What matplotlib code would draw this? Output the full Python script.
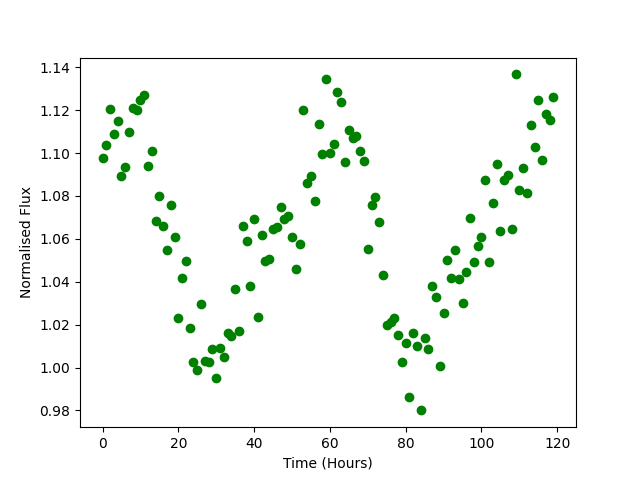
import matplotlib
matplotlib.use('Agg')
import matplotlib.pyplot as plt
import numpy as np

hours = np.arange(120)
flux = [1.0975, 1.1036, 1.1204, 1.1088, 1.1148, 1.0892, 1.0934, 1.1097, 1.1209, 1.1200,
        1.1246, 1.1270, 1.0938, 1.1008, 1.0682, 1.0799, 1.0659, 1.0547, 1.0757, 1.0608,
        1.0230, 1.0417, 1.0496, 1.0183, 1.0025, 0.9990, 1.0295, 1.0030, 1.0025, 1.0086,
        0.9950, 1.0090, 1.0049, 1.0160, 1.0147, 1.0366, 1.0170, 1.0659, 1.0589, 1.0380,
        1.0692, 1.0235, 1.0617, 1.0496, 1.0505, 1.0645, 1.0654, 1.0750, 1.0692, 1.0706,
        1.0608, 1.0459, 1.0575, 1.1200, 1.0860, 1.0892, 1.0776, 1.1134, 1.0995, 1.1344,
        1.1000, 1.1041, 1.1284, 1.1237, 1.0957, 1.1106, 1.1069, 1.1078, 1.1008, 1.0962,
        1.0552, 1.0757, 1.0794, 1.0678, 1.0431, 1.0198, 1.0212, 1.0230, 1.0151, 1.0025,
        1.0114, 0.9862, 1.0160, 1.0100, 0.9800, 1.0137, 1.0086, 1.0380, 1.0328, 1.0007,
        1.0254, 1.0500, 1.0417, 1.0547, 1.0412, 1.0300, 1.0445, 1.0696, 1.0491, 1.0566,
        1.0608, 1.0873, 1.0491, 1.0766, 1.0948, 1.0636, 1.0873, 1.0897, 1.0645, 1.1367,
        1.0827, 1.0929, 1.0816, 1.1130, 1.1027, 1.1246, 1.0967, 1.1181, 1.1153, 1.1260]

fig = plt.figure(figsize=(6.4, 4.8), dpi=100)
plt.plot(hours, flux, 'go')
plt.xlabel('Time (Hours)')
plt.ylabel('Normalised Flux')
plt.savefig('out.png')
